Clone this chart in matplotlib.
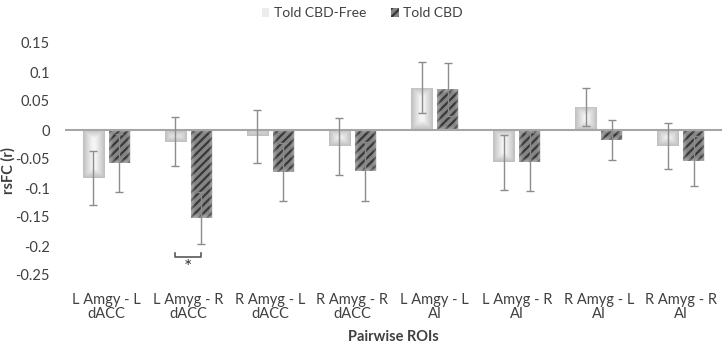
import numpy as np
import matplotlib
matplotlib.use("Agg")
import matplotlib.pyplot as plt
from matplotlib.patches import Patch
from matplotlib.ticker import FuncFormatter

plt.rcParams['font.family'] = ['Lato', 'DejaVu Sans']
plt.rcParams['hatch.linewidth'] = 1.6

# data
rois = ['L Amgy - L\ndACC', 'L Amyg - R\ndACC', 'R Amyg - L\ndACC', 'R Amyg - R\ndACC',
        'L Amgy - L\nAI', 'L Amyg - R\nAI', 'R Amyg - L\nAI', 'R Amyg - R\nAI']
free_mean = [-0.083, -0.020, -0.011, -0.028, 0.073, -0.056, 0.040, -0.028]
free_err = [0.047, 0.042, 0.046, 0.049, 0.044, 0.047, 0.033, 0.040]
cbd_mean = [-0.057, -0.152, -0.073, -0.071, 0.070, -0.055, -0.017, -0.054]
cbd_err = [0.050, 0.045, 0.050, 0.051, 0.046, 0.051, 0.035, 0.043]
yticks = [-0.25, -0.2, -0.15, -0.1, -0.05, 0, 0.05, 0.1, 0.15]
sig_roi = 1          # index of the significant pair
sig_y = -0.219       # height of the bracket

txt = '#404040'
fig = plt.figure(figsize=(7.24, 3.49), dpi=100)
ax = fig.add_axes([65/724, 1-275/349, 657/724, 232/349])
ax.set_xlim(-0.5, 7.5)
ax.set_ylim(-0.25, 0.15)

x = np.arange(len(rois))
w = 0.256
off = 0.158
b1 = ax.bar(x - off, free_mean, w, color='#d4d4d4', lw=0, zorder=2)
b2 = ax.bar(x + off, cbd_mean, w, color='#858585', edgecolor='#383838',
            hatch='////', lw=0, zorder=2)

# soft glow inside the bars
t0 = ax.transData.transform((0, 0))
t1 = ax.transData.transform((1, 1))
px_x = t1[0] - t0[0]
px_y = t1[1] - t0[1]


def edge_dist(bar, n=60):
    bx, by, bw, bh = bar.get_x(), bar.get_y(), bar.get_width(), bar.get_height()
    hw, hh = bw * px_x / 2, abs(bh) * px_y / 2
    u = np.linspace(-hw, hw, n)
    v = np.linspace(-hh, hh, n)
    U, V = np.meshgrid(u, v)
    e = np.minimum(hw - np.abs(U), hh - np.abs(V))
    ext = (bx, bx + bw, min(by, by + bh), max(by, by + bh))
    return e, ext


for bar in b1:
    e, ext = edge_dist(bar)
    t = np.clip(e / 9.0, 0, 1)
    c = 0.75 + (0.96 - 0.75) * t
    img = np.dstack([c, c, c, np.ones_like(c)])
    im = ax.imshow(img, extent=ext, aspect='auto', origin='lower',
                   interpolation='bilinear', zorder=3)
    im.set_clip_path(bar)

for bar in b2:
    e, ext = edge_dist(bar)
    t = np.clip(e / 4.0, 0, 1)
    a = 0.5 * (1 - t)
    img = np.dstack([np.full_like(a, 0.8), np.full_like(a, 0.8), np.full_like(a, 0.8), a])
    im = ax.imshow(img, extent=ext, aspect='auto', origin='lower',
                   interpolation='bilinear', zorder=3)
    im.set_clip_path(bar)

ax.set_xlim(-0.5, 7.5)
ax.set_ylim(-0.25, 0.15)

ax.errorbar(x - off, free_mean, yerr=free_err, fmt='none', ecolor='#8c8c8c',
            elinewidth=1, capsize=3, capthick=1, zorder=5)
ax.errorbar(x + off, cbd_mean, yerr=cbd_err, fmt='none', ecolor='#8c8c8c',
            elinewidth=1, capsize=3, capthick=1, zorder=5)

ax.axhline(0, color='#a6a6a6', lw=1.5, zorder=4)

# significance bracket
xa, xb = sig_roi - off, sig_roi + off
ax.plot([xa, xa, xb, xb], [sig_y + 0.007, sig_y, sig_y, sig_y + 0.007],
        color='#595959', lw=1.2, zorder=5)
ax.text(sig_roi, sig_y - 0.004, '*', ha='center', va='top', fontsize=14, color='#333333')

for s in ax.spines.values():
    s.set_visible(False)
ax.set_yticks(yticks)
ax.yaxis.set_major_formatter(FuncFormatter(lambda v, p: '%g' % v))
ax.set_xticks(x)
ax.set_xticklabels(rois, linespacing=0.95, multialignment='center')
ax.tick_params(axis='both', length=0, labelsize=10.5, labelcolor=txt)
ax.tick_params(axis='y', pad=11)
ax.tick_params(axis='x', pad=13)

ax.set_ylabel('rsFC (r)', fontsize=10.5, fontweight='bold', color=txt)
ax.yaxis.set_label_coords(-49/657, 0.45)
fig.text(0.544, 0.035, 'Pairwise ROIs', ha='center', va='center', fontsize=10.5,
         fontweight='bold', color=txt)

handles = [Patch(facecolor='#ececec', lw=0),
           Patch(facecolor='#858585', edgecolor='#383838', hatch='////', lw=0)]
fig.legend(handles, ['Told CBD-Free', 'Told CBD'], loc='upper center',
           bbox_to_anchor=(0.5, 1.015), ncol=2, frameon=False, fontsize=10,
           handlelength=0.55, handleheight=0.55, handletextpad=0.3,
           columnspacing=1.8, labelcolor=txt)

fig.savefig('out.png', dpi=100)
